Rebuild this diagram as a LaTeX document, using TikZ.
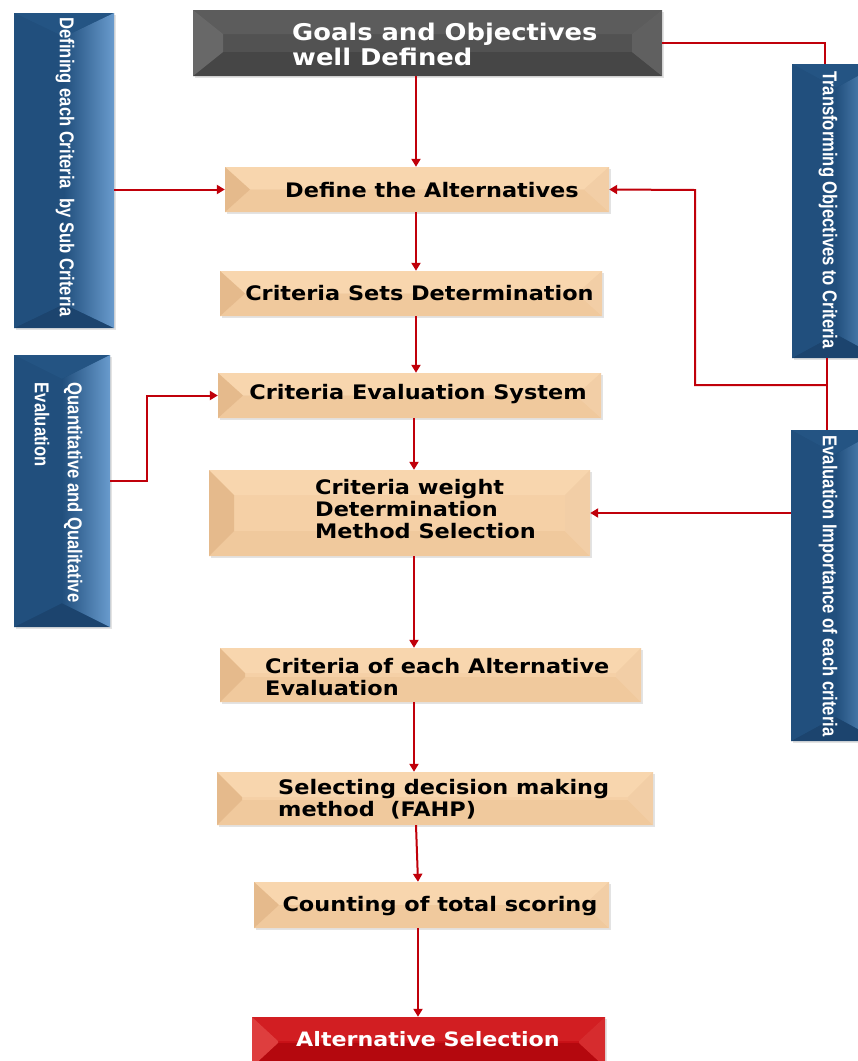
\documentclass[tikz,border=0pt]{standalone}
\usepackage{fontspec}
\setmainfont{DejaVu Sans}
\newfontfamily\stepfont{DejaVu Sans}[FakeStretch=1.12]
\newfontfamily\narrowfont{Liberation Sans}[FakeStretch=0.83]
\usetikzlibrary{arrows.meta,shadows,calc}

\definecolor{tanM}{RGB}{245,208,166}
\definecolor{tanT}{RGB}{248,214,174}
\definecolor{tanB}{RGB}{240,201,157}
\definecolor{tanL}{RGB}{229,186,140}
\definecolor{tanR}{RGB}{242,206,166}
\definecolor{blueM}{RGB}{33,79,125}
\definecolor{blueT}{RGB}{36,84,131}
\definecolor{blueB}{RGB}{28,68,110}
\definecolor{blueL}{RGB}{33,79,125}
\definecolor{blueR}{RGB}{105,155,205}
\definecolor{grayM}{RGB}{82,82,82}
\definecolor{grayT}{RGB}{92,92,92}
\definecolor{grayB}{RGB}{70,70,70}
\definecolor{grayL}{RGB}{104,104,104}
\definecolor{grayR}{RGB}{96,96,96}
\definecolor{redM}{RGB}{200,16,22}
\definecolor{redT}{RGB}{210,30,34}
\definecolor{redB}{RGB}{180,8,14}
\definecolor{redL}{RGB}{222,62,62}
\definecolor{redR}{RGB}{214,44,46}
\definecolor{lineRed}{RGB}{192,0,10}

\tikzset{
  % bevelled box: main fill, top, bottom, left, right panels, bevel dx, dy
  bevelbox/.style n args={7}{
    fill=#1, draw=none, inner sep=0pt,
    drop shadow={shadow xshift=1.5pt, shadow yshift=-2pt, opacity=0.22},
    path picture={
      \coordinate (p1) at (path picture bounding box.north west);
      \coordinate (p3) at (path picture bounding box.south east);
      \coordinate (p2) at (p1 -| p3);
      \coordinate (p4) at (p3 -| p1);
      \coordinate (q1) at ([shift={(#6,-#7)}]p1);
      \coordinate (q2) at ([shift={(-#6,-#7)}]p2);
      \coordinate (q3) at ([shift={(-#6,#7)}]p3);
      \coordinate (q4) at ([shift={(#6,#7)}]p4);
      \fill[#2] (p1)--(p2)--(q2)--(q1)--cycle;
      \fill[#3] (p4)--(p3)--(q3)--(q4)--cycle;
      \fill[#4] (p1)--(p4)--(q4)--(q1)--cycle;
      \fill[#5] (p2)--(p3)--(q3)--(q2)--cycle;
    }},
  tanbox/.style={bevelbox={tanM}{tanT}{tanB}{tanL}{tanR}{25pt}{#1}},
  tanbox/.default=22.5pt,
  graybox/.style={bevelbox={grayM}{grayT}{grayB}{grayL}{grayR}{30pt}{24pt}},
  redbox/.style={bevelbox={redM}{redT}{redB}{redL}{redR}{26pt}{24pt}},
  bluebox/.style={bevelbox={blueM}{blueT}{blueB}{blueL}{left color=blueM,right color=blueR}{#1}{24pt}},
  steptext/.style={font=\stepfont\bfseries\fontsize{20pt}{22pt}\selectfont, text=black, inner sep=0pt, align=left},
  sidetext/.style={font=\narrowfont\bfseries\fontsize{20pt}{33pt}\selectfont, text=white, inner sep=0pt, align=left, rotate=-90},
  conn/.style={draw=lineRed, line width=2pt},
  arr/.style={conn, -{Triangle[length=8pt,width=9pt]}},
}

\begin{document}
\begin{tikzpicture}[x=1pt,y=-1pt]
\fill[white] (0,0) rectangle (858,1061);
\useasboundingbox (0,0) rectangle (858,1061);

% main column of steps
\node[graybox, minimum width=469pt, minimum height=66pt] (goals) at (427.5,43) {};
\node[tanbox, minimum width=384pt, minimum height=45pt] (alt) at (417,189.5) {};
\node[tanbox, minimum width=382pt, minimum height=45pt] (sets) at (411,293.5) {};
\node[tanbox, minimum width=383pt, minimum height=45pt] (evalsys) at (409.5,395.5) {};
\node[tanbox=25pt, minimum width=381pt, minimum height=86pt] (weight) at (399.5,513) {};
\node[tanbox=25pt, minimum width=421pt, minimum height=54pt] (each) at (430.5,675) {};
\node[tanbox=25pt, minimum width=436pt, minimum height=53pt] (fahp) at (435,798.5) {};
\node[tanbox=23pt, minimum width=355pt, minimum height=46pt] (count) at (431.5,905) {};
\node[redbox, minimum width=353pt, minimum height=50pt] (final) at (428.5,1042) {};

% side boxes
\node[bluebox=50pt, minimum width=100pt, minimum height=315pt] (defsub) at (64,170.5) {};
\node[bluebox=48pt, minimum width=96pt, minimum height=272pt] (quant) at (62,491) {};
\node[bluebox=44pt, minimum width=88pt, minimum height=294pt] (transf) at (836,211) {};
\node[bluebox=44pt, minimum width=89pt, minimum height=311pt] (evimp) at (835.5,585.5) {};

% texts
\node[steptext, text=white, font=\stepfont\bfseries\fontsize{23pt}{25pt}\selectfont, anchor=west] (tgoals) at (292,44.5) {Goals and Objectives\\well Defined};
\node[steptext] (talt) at (432,190) {Define the Alternatives};
\node[steptext] (tsets) at (419.5,293) {Criteria Sets Determination};
\node[steptext] (tevalsys) at (418,394.5) {Criteria Evaluation System};
\node[steptext, anchor=west] (tweight) at (315,509.5) {Criteria weight\\Determination\\Method Selection};
\node[steptext, anchor=west] (teach) at (265,677) {Criteria of each Alternative\\Evaluation};
\node[steptext, anchor=west] (tfahp) at (278,799) {Selecting decision making\\method~~(FAHP)};
\node[steptext] (tcount) at (440,906) {Counting of total scoring};
\node[steptext, text=white, font=\stepfont\bfseries\fontsize{19.8pt}{22pt}\selectfont] (tfinal) at (428,1039) {Alternative Selection};

\node[sidetext] (tdefsub) at (65,167) {Defining each Criteria~ by Sub Criteria};
\node[sidetext] (tquant) at (58.5,492.5) {Quantitative and Qualitative\\Evaluation};
\node[sidetext] (ttransf) at (828,210) {Transforming Objectives to Criteria};
\node[sidetext] (tevimp) at (828,586) {Evaluation Importance of each criteria};

% connectors
\coordinate (spineA) at (416,0);
\coordinate (spineB) at (414,0);
\coordinate (spineC) at (418,0);
\draw[arr] (goals.south -| spineA) -- (alt.north -| spineA);
\draw[arr] (alt.south -| spineA) -- (sets.north -| spineA);
\draw[arr] (sets.south -| spineA) -- (evalsys.north -| spineA);
\draw[arr] (evalsys.south -| spineB) -- (weight.north -| spineB);
\draw[arr] (weight.south -| spineB) -- (each.north -| spineB);
\draw[arr] (each.south -| spineB) -- (fahp.north -| spineB);
\draw[arr] ([xshift=2pt]fahp.south -| spineB) -- (count.north -| spineC);
\draw[arr] (count.south -| spineC) -- (final.north -| spineC);

\draw[arr] (alt.west -| defsub.east) -- (alt.west);
\draw[arr] ([yshift=10pt]quant.east) -- ++(37pt,0) |- (evalsys.west);

\draw[conn] (goals.east) -| ([xshift=-11pt]transf.north);
\coordinate (tb) at ([xshift=-9pt]transf.south);
\coordinate (split) at (tb |- 0,385);
\coordinate (bend) at (695,190);
\draw[conn] (tb) -- (tb |- evimp.north);
\draw[arr] (split) -| (bend) -- (alt.east);
\draw[arr] (evimp.west |- weight.east) -- (weight.east);
\end{tikzpicture}
\end{document}
